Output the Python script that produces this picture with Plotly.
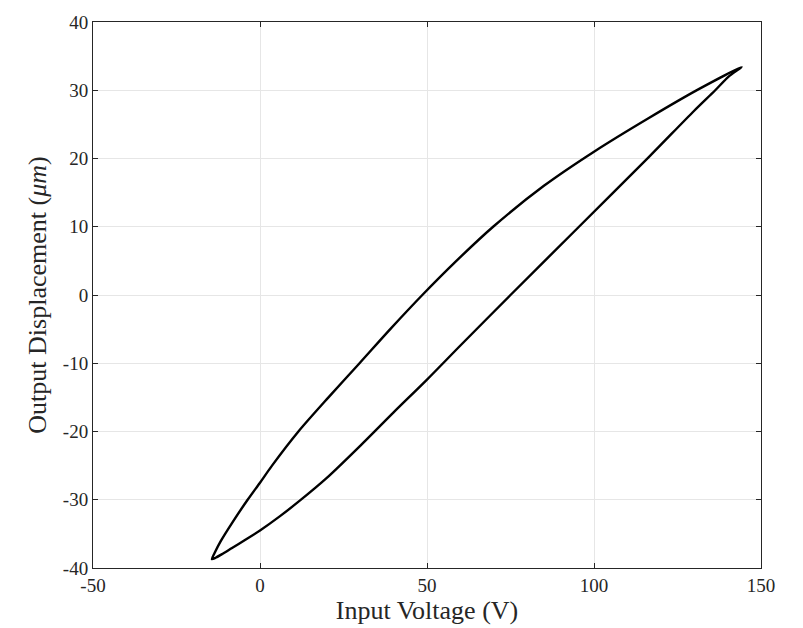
import plotly.graph_objects as go

# Upper (descending voltage) branch, from top tip to bottom tip
upper_v = [144.2, 131.5, 116.3, 100.0, 85.0, 69.8, 58.8, 48.6, 39.0, 29.8, 20.5, 11.5, 3.6, 0.0, -3.7, -8.1, -11.8, -13.6, -14.4]
upper_d = [33.4, 30.2, 25.9, 21.0, 16.0, 10.0, 5.0, 0.0, -5.0, -10.0, -15.0, -20.0, -25.0, -27.5, -30.0, -33.2, -36.1, -37.8, -38.7]

# Lower (ascending voltage) branch, from bottom tip to top tip
lower_v = [-14.4, -13.3, -11.5, -8.5, -4.5, 0.0, 6.0, 12.0, 20.0, 30.0, 40.0, 50.0, 60.0, 75.0, 95.5, 116.4, 130.0, 136.3, 140.3, 144.2]
lower_d = [-38.7, -38.5, -38.0, -37.1, -35.9, -34.5, -32.4, -30.1, -26.8, -22.1, -17.2, -12.4, -7.4, 0.0, 10.0, 20.2, 27.0, 30.0, 32.0, 33.4]

x_ticks = [-50, 0, 50, 100, 150]
x_ticktext = ["-50", "0", "50", "100", "150"]
y_ticks = [-40, -30, -20, -10, 0, 10, 20, 30, 40]
y_ticktext = ["-40", "-30", "-20", "-10", "0", "10", "20", "30", "40"]

volt = upper_v + lower_v[1:]
disp = upper_d + lower_d[1:]

fig = go.Figure()
fig.add_trace(go.Scatter(
    x=volt, y=disp, mode="lines",
    line=dict(color="black", width=2.4, shape="spline", smoothing=0.8),
    showlegend=False, hoverinfo="skip"))

font_family = "Liberation Serif, DejaVu Serif, serif"
axis_common = dict(
    showline=True, linecolor="#262626", linewidth=1, mirror="ticks",
    ticks="inside", ticklen=5, tickwidth=1, tickcolor="#262626",
    showgrid=True, gridcolor="#e6e6e6", gridwidth=1, zeroline=False,
    tickfont=dict(family=font_family, size=19, color="#262626"),
)

fig.update_layout(
    width=803, height=628,
    margin=dict(l=93, r=42, t=19, b=59),
    paper_bgcolor="white", plot_bgcolor="white",
    xaxis=dict(range=[-50, 150], tickvals=x_ticks, ticktext=x_ticktext,
               title=dict(text="Input Voltage (V)", font=dict(family=font_family, size=26, color="#262626"), standoff=2),
               **axis_common),
    yaxis=dict(range=[-40, 40], tickvals=y_ticks, ticktext=y_ticktext,
               title=dict(text="Output Displacement (<i>μm</i>)", font=dict(family=font_family, size=26, color="#262626"), standoff=8),
               **axis_common),
)

fig.write_html("out.html")
